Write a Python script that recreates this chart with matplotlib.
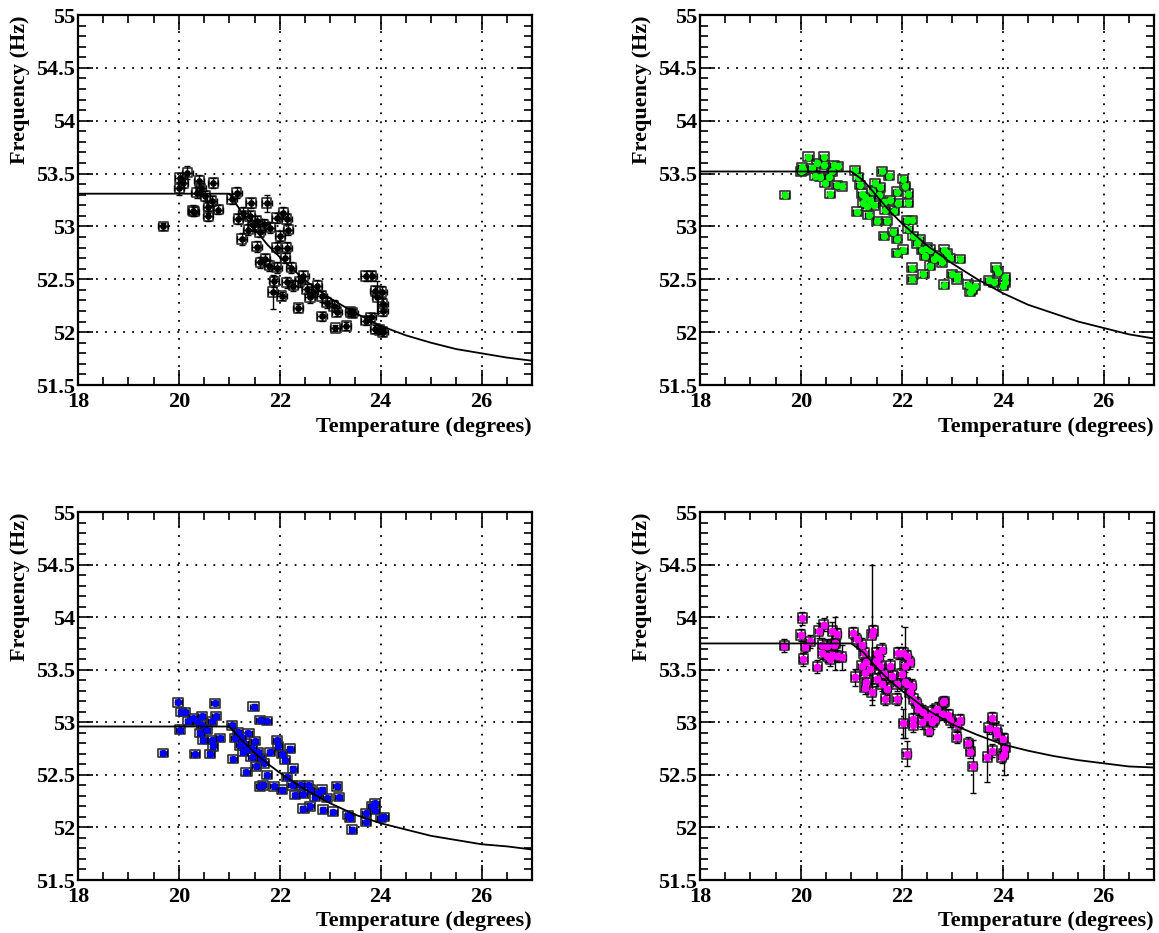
import numpy as np
import matplotlib
matplotlib.use("Agg")
import matplotlib.pyplot as plt
from matplotlib.patches import Rectangle
from matplotlib.collections import PatchCollection
from matplotlib.ticker import MultipleLocator

plt.rcParams['font.family'] = ['Liberation Serif', 'DejaVu Serif']
plt.rcParams['font.weight'] = 'bold'

# ---- panel 1 (black) ----
t_black = [19.69, 20.02, 20.17, 20.01, 20.09, 20.40, 20.43, 20.68, 20.28, 20.58,
           20.58, 20.78, 20.52, 20.35, 20.65, 20.30, 21.15, 21.05, 21.43, 21.74,
           21.18, 21.28, 21.41, 21.54, 21.68, 21.81, 22.07, 22.14, 22.17, 21.94,
           21.25, 21.54, 21.71, 21.79, 21.61, 21.94, 22.14, 22.11, 21.94, 22.23,
           21.38, 22.01, 21.47, 21.60, 21.89, 21.86, 22.04, 22.14, 22.27, 22.47,
           22.54, 22.37, 22.60, 22.74, 22.83, 22.93, 22.83, 23.07, 23.13, 23.40,
           23.10, 23.32, 23.45, 22.40, 22.65, 23.71, 23.82, 23.89, 24.02, 24.04,
           24.04, 23.71, 23.80, 23.89, 24.04, 23.98, 23.93]
f_black = [53.00, 53.46, 53.51, 53.36, 53.41, 53.43, 53.36, 53.41, 53.15, 53.18,
           53.10, 53.16, 53.29, 53.32, 53.24, 53.14, 53.32, 53.26, 53.22, 53.22,
           53.07, 53.13, 53.10, 53.05, 53.02, 52.99, 53.13, 53.07, 52.97, 53.08,
           52.88, 52.81, 52.69, 52.63, 52.66, 52.80, 52.80, 52.70, 52.61, 52.61,
           52.97, 52.91, 53.01, 52.95, 52.48, 52.38, 52.34, 52.47, 52.44, 52.53,
           52.41, 52.23, 52.33, 52.44, 52.34, 52.28, 52.15, 52.25, 52.19, 52.19,
           52.04, 52.06, 52.18, 52.48, 52.38, 52.53, 52.53, 52.39, 52.38, 52.27,
           52.20, 52.11, 52.14, 52.03, 52.00, 52.02, 52.33]
ey_black = [0.03, 0.05, 0.06, 0.06, 0.05, 0.06, 0.05, 0.05, 0.05, 0.05,
            0.05, 0.04, 0.05, 0.05, 0.05, 0.04, 0.05, 0.05, 0.05, 0.08,
            0.05, 0.05, 0.05, 0.05, 0.05, 0.05, 0.05, 0.05, 0.05, 0.05,
            0.06, 0.05, 0.05, 0.05, 0.05, 0.05, 0.05, 0.05, 0.05, 0.05,
            0.05, 0.05, 0.05, 0.05, 0.05, 0.16, 0.04, 0.05, 0.05, 0.05,
            0.05, 0.04, 0.05, 0.05, 0.05, 0.05, 0.04, 0.05, 0.04, 0.04,
            0.03, 0.04, 0.04, 0.05, 0.05, 0.05, 0.05, 0.05, 0.06, 0.05,
            0.05, 0.04, 0.04, 0.04, 0.04, 0.04, 0.15]

# ---- panel 2 (green) ----
t_green = [19.69, 20.02, 20.05, 20.15, 20.32, 20.45, 20.45, 20.65, 20.73, 20.28,
           20.38, 20.55, 20.48, 20.58, 20.71, 20.81, 20.22, 20.61, 20.00, 21.08,
           21.14, 21.17, 21.21, 21.24, 21.11, 21.34, 21.31, 21.41, 21.47, 21.54,
           21.60, 21.74, 21.64, 21.77, 21.90, 22.03, 22.07, 22.13, 22.13, 21.93,
           21.50, 21.70, 21.64, 21.83, 21.90, 22.10, 22.20, 21.67, 21.37, 21.28,
           21.45, 21.57, 21.85, 22.13, 22.23, 22.30, 22.03, 21.90, 22.40, 22.46,
           22.56, 22.63, 22.69, 22.83, 22.89, 22.96, 23.16, 22.79, 22.56, 22.20,
           22.20, 22.43, 22.84, 22.99, 23.09, 22.35, 22.50, 22.75, 23.32, 23.36,
           23.45, 23.40, 23.72, 23.83, 23.86, 23.90, 24.05, 24.01, 24.05, 23.10]
f_green = [53.30, 53.56, 53.53, 53.66, 53.60, 53.66, 53.58, 53.58, 53.57, 53.48,
           53.47, 53.47, 53.41, 53.31, 53.39, 53.38, 53.55, 53.52, 53.52, 53.53,
           53.47, 53.39, 53.31, 53.22, 53.14, 53.11, 53.19, 53.34, 53.41, 53.30,
           53.52, 53.48, 53.23, 53.25, 53.33, 53.45, 53.38, 53.31, 53.22, 53.22,
           53.05, 53.05, 52.91, 52.95, 52.88, 53.06, 53.06, 53.16, 53.25, 53.28,
           53.20, 53.37, 53.15, 52.98, 52.91, 52.84, 52.78, 52.75, 52.78, 52.72,
           52.78, 52.69, 52.73, 52.78, 52.75, 52.70, 52.69, 52.66, 52.63, 52.61,
           52.50, 52.55, 52.45, 52.55, 52.50, 52.88, 52.80, 52.70, 52.45, 52.38,
           52.44, 52.40, 52.49, 52.47, 52.61, 52.57, 52.52, 52.44, 52.47, 52.53]

# ---- panel 3 (blue) ----
t_blue = [19.69, 19.99, 20.05, 20.12, 20.02, 20.19, 20.28, 20.45, 20.71, 20.73,
          20.65, 20.45, 20.55, 20.42, 20.48, 20.65, 20.81, 20.68, 20.62, 20.32,
          20.35, 21.48, 21.60, 21.75, 21.05, 21.17, 21.24, 21.38, 21.11, 21.21,
          21.28, 21.38, 21.44, 21.50, 21.56, 21.62, 21.69, 21.08, 21.34, 21.81,
          21.94, 21.97, 22.04, 22.11, 22.21, 22.27, 21.52, 21.75, 21.66, 21.60,
          21.30, 21.45, 21.88, 22.04, 22.14, 22.24, 22.31, 22.40, 22.47, 22.60,
          22.70, 22.83, 22.93, 23.13, 23.17, 22.47, 22.60, 22.86, 23.06, 23.36,
          23.39, 23.44, 22.55, 22.75, 23.71, 23.71, 23.82, 23.89, 24.00, 24.07,
          23.89]
f_blue = [52.71, 53.19, 53.10, 53.10, 52.93, 53.01, 53.04, 53.06, 53.18, 53.06,
          53.01, 52.97, 52.93, 52.90, 52.83, 52.83, 52.85, 52.77, 52.70, 52.70,
          53.01, 53.15, 53.02, 53.01, 52.97, 52.91, 52.86, 52.90, 52.85, 52.78,
          52.72, 52.75, 52.67, 52.82, 52.72, 52.66, 52.61, 52.65, 52.53, 52.72,
          52.83, 52.77, 52.70, 52.64, 52.75, 52.56, 52.58, 52.50, 52.40, 52.39,
          52.80, 52.76, 52.39, 52.36, 52.48, 52.40, 52.31, 52.40, 52.32, 52.36,
          52.29, 52.36, 52.28, 52.39, 52.29, 52.18, 52.20, 52.17, 52.15, 52.12,
          52.09, 51.98, 52.40, 52.33, 52.14, 52.05, 52.20, 52.23, 52.09, 52.10,
          52.17]

# ---- panel 4 (magenta) ----
t_magenta = [19.67, 20.03, 20.00, 20.05, 20.09, 20.18, 20.32, 20.35, 20.45, 20.42,
             20.52, 20.62, 20.68, 20.71, 20.65, 20.42, 20.52, 20.62, 20.71, 20.81,
             20.58, 21.04, 21.11, 21.21, 21.25, 21.08, 21.21, 21.30, 21.27, 21.37,
             21.40, 21.43, 21.50, 21.54, 21.60, 21.48, 21.57, 21.64, 21.50, 21.60,
             21.70, 21.67, 21.77, 21.81, 21.90, 21.90, 21.30, 21.40, 21.27, 21.93,
             22.03, 22.10, 22.16, 22.06, 22.00, 22.07, 22.10, 22.20, 22.16, 22.23,
             22.30, 22.03, 22.23, 22.33, 22.43, 22.49, 22.59, 22.65, 22.69, 22.79,
             22.82, 22.92, 22.96, 23.09, 23.15, 22.53, 22.23, 22.10, 23.32, 23.36,
             23.41, 23.09, 23.69, 23.72, 23.79, 23.79, 23.87, 23.89, 24.01, 24.05,
             23.98, 24.02, 22.84, 22.40, 22.60]
f_magenta = [53.73, 53.99, 53.83, 53.60, 53.72, 53.77, 53.53, 53.87, 53.93, 53.74,
             53.73, 53.87, 53.75, 53.84, 53.74, 53.66, 53.63, 53.64, 53.63, 53.62,
             53.60, 53.85, 53.79, 53.74, 53.66, 53.43, 53.54, 53.57, 53.47, 53.51,
             53.83, 53.87, 53.66, 53.62, 53.69, 53.58, 53.54, 53.46, 53.41, 53.36,
             53.32, 53.22, 53.54, 53.44, 53.36, 53.22, 53.38, 53.29, 53.33, 53.66,
             53.66, 53.63, 53.57, 53.54, 53.46, 53.38, 53.36, 53.35, 53.29, 53.22,
             53.18, 52.99, 53.03, 53.13, 53.10, 53.05, 53.10, 53.03, 53.13, 53.08,
             53.19, 53.07, 53.02, 52.97, 53.02, 52.92, 52.97, 52.70, 52.80, 52.72,
             52.58, 52.86, 52.67, 52.95, 53.04, 52.73, 52.93, 52.89, 52.84, 52.76,
             52.67, 52.70, 53.20, 53.00, 53.00]
ey_magenta = [0.06, 0.06, 0.06, 0.06, 0.05, 0.06, 0.06, 0.07, 0.06, 0.06,
              0.06, 0.08, 0.25, 0.06, 0.06, 0.06, 0.06, 0.06, 0.06, 0.12,
              0.06, 0.06, 0.06, 0.06, 0.06, 0.08, 0.06, 0.06, 0.06, 0.06,
              0.67, 0.06, 0.06, 0.06, 0.06, 0.06, 0.06, 0.06, 0.06, 0.06,
              0.06, 0.06, 0.06, 0.06, 0.06, 0.06, 0.08, 0.08, 0.06, 0.06,
              0.06, 0.06, 0.06, 0.06, 0.06, 0.53, 0.06, 0.06, 0.06, 0.06,
              0.06, 0.14, 0.06, 0.06, 0.06, 0.06, 0.06, 0.06, 0.06, 0.06,
              0.05, 0.06, 0.06, 0.06, 0.06, 0.05, 0.06, 0.12, 0.06, 0.06,
              0.25, 0.06, 0.24, 0.06, 0.06, 0.06, 0.06, 0.06, 0.06, 0.06,
              0.06, 0.20, 0.05, 0.06, 0.06]

# ---- fitted curves ----
fit_t = [18, 21, 21.25, 21.5, 21.75, 22, 22.5, 23, 23.5, 24, 24.5, 25, 25.5, 26, 26.5, 27]
fit_black = [53.31, 53.31, 53.13, 52.98, 52.83, 52.71, 52.49, 52.32, 52.18, 52.06,
             51.97, 51.90, 51.84, 51.80, 51.76, 51.73]
fit_green = [53.52, 53.52, 53.43, 53.29, 53.15, 53.03, 52.82, 52.65, 52.50, 52.37,
             52.26, 52.18, 52.10, 52.04, 51.98, 51.94]
fit_blue = [52.96, 52.96, 52.83, 52.71, 52.61, 52.52, 52.36, 52.23, 52.12, 52.04,
            51.98, 51.92, 51.88, 51.84, 51.82, 51.79]
fit_magenta = [53.75, 53.75, 53.66, 53.52, 53.40, 53.30, 53.12, 52.98, 52.88, 52.79,
               52.73, 52.68, 52.64, 52.61, 52.58, 52.57]


def draw_panel(ax, t, f, ex, ey, box, color, ms, fit_f):
    bx, by = box
    boxes = [Rectangle((ti - bx, fi - by), 2 * bx, 2 * by) for ti, fi in zip(t, f)]
    ax.add_collection(PatchCollection(boxes, facecolor='none', edgecolor='#303030',
                                      linewidth=1.2, zorder=2))
    ax.errorbar(t, f, xerr=ex, yerr=ey, fmt='o', color=color, mec=color, ms=ms,
                ecolor='black', elinewidth=1.0, capsize=2.5, capthick=1.0, zorder=3)
    ax.plot(fit_t, fit_f, color='black', lw=1.3, zorder=4)

    ax.set_xlim(18, 27)
    ax.set_ylim(51.5, 55)
    ax.xaxis.set_minor_locator(MultipleLocator(0.5))
    ax.yaxis.set_minor_locator(MultipleLocator(0.1))
    ax.set_xticks([18, 20, 22, 24, 26])
    ax.set_yticks(np.arange(51.5, 55.01, 0.5))
    ax.set_yticklabels(['51.5', '52', '52.5', '53', '53.5', '54', '54.5', '55'])
    ax.tick_params(which='both', direction='in', top=True, right=True,
                   labelsize=16, width=1.2)
    ax.tick_params(which='major', length=11)
    ax.tick_params(which='minor', length=5.5)
    ax.tick_params(axis='y', pad=2)
    ax.tick_params(axis='x', pad=5)
    ax.grid(which='major', color='black', linestyle=(0, (1, 4)), linewidth=1.3)
    ax.set_axisbelow(True)
    for s in ax.spines.values():
        s.set_linewidth(1.6)

    ax.set_xlabel('Temperature (degrees)', fontsize=16, fontweight='bold', loc='right')
    ax.set_ylabel('Frequency (Hz)', fontsize=16, fontweight='bold', loc='top')
    ax.xaxis.set_label_coords(1.0, -0.085)
    ax.yaxis.set_label_coords(-0.105, 1.0)


fig = plt.figure(figsize=(11.59, 9.33), dpi=100)
ax1 = fig.add_axes([0.0673, 0.5873, 0.3917, 0.3966])
ax2 = fig.add_axes([0.6040, 0.5873, 0.3917, 0.3966])
ax3 = fig.add_axes([0.0673, 0.0568, 0.3917, 0.3944])
ax4 = fig.add_axes([0.6040, 0.0568, 0.3917, 0.3944])

draw_panel(ax1, t_black, f_black, 0.1, ey_black, (0.09, 0.045), 'black', 3.8, fit_black)
draw_panel(ax2, t_green, f_green, 0.07, 0.02, (0.1, 0.04), '#00ff00', 4.3, fit_green)
draw_panel(ax3, t_blue, f_blue, 0.07, 0.02, (0.1, 0.04), '#0000ff', 4.3, fit_blue)
draw_panel(ax4, t_magenta, f_magenta, 0.08, ey_magenta, (0.09, 0.045), '#ff00ff', 4.6, fit_magenta)

fig.savefig('out.png', dpi=100)
